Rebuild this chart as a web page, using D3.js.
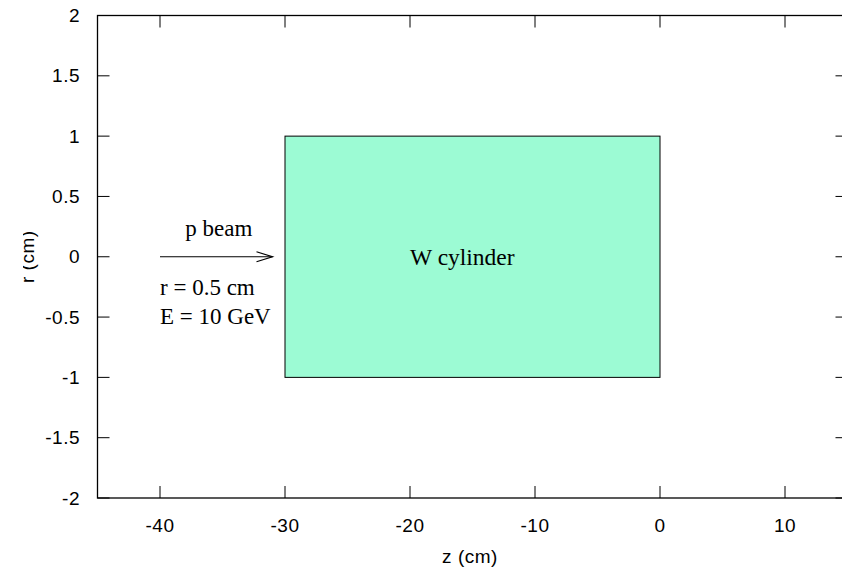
<!DOCTYPE html>
<html><head><meta charset="utf-8">
<script src="https://cdn.jsdelivr.net/npm/d3@7"></script>
<style>body{margin:0;background:#fff}svg{display:block}</style>
</head><body>
<script>
const xTicks = [-40, -30, -20, -10, 0, 10];
const yTicks = [-2, -1.5, -1, -0.5, 0, 0.5, 1, 1.5, 2];
const xDomain = [-45, 15];
const yDomain = [-2, 2];
const cylinder = {z0: -30, z1: 0, r0: -1, r1: 1, name: "W cylinder"};
const beamArrow = {zFrom: -40, zTo: -31, r: 0};
const beamLabels = [
  {text: "p beam", z: -35.3, r: 0.17, anchor: "middle"},
  {text: "r = 0.5 cm", z: -40, r: -0.32, anchor: "start"},
  {text: "E = 10 GeV", z: -40, r: -0.56, anchor: "start"}
];
const cylLabel = {z: -20, r: -0.07};

(function(){
const W = 842, H = 571;
const svg = d3.select("body").append("svg").attr("width", W).attr("height", H);
const x = d3.scaleLinear().domain(xDomain).range([97.5, 847.5]);
const y = d3.scaleLinear().domain(yDomain).range([498, 15.5]);

svg.append("rect")
  .attr("x", x(cylinder.z0)).attr("y", y(cylinder.r1))
  .attr("width", x(cylinder.z1) - x(cylinder.z0))
  .attr("height", y(cylinder.r0) - y(cylinder.r1))
  .attr("fill", "#9cfbd4").attr("stroke", "#000").attr("stroke-width", 1);

const pL = x(xDomain[0]), pR = x(xDomain[1]), pT = y(yDomain[1]), pB = y(yDomain[0]);
svg.append("rect").attr("x", pL).attr("y", pT).attr("width", pR-pL).attr("height", pB-pT)
  .attr("fill", "none").attr("stroke", "#000").attr("stroke-width", 1.3);

const fmt = v => String(v).replace("\u2212", "-");
const tl = 12;
const gx = svg.append("g");
xTicks.forEach(t => {
  gx.append("line").attr("x1", x(t)).attr("x2", x(t)).attr("y1", pB).attr("y2", pB - tl).attr("stroke", "#000");
  gx.append("line").attr("x1", x(t)).attr("x2", x(t)).attr("y1", pT).attr("y2", pT + tl).attr("stroke", "#000");
  gx.append("text").attr("x", x(t)).attr("y", 532).attr("text-anchor", "middle")
    .attr("font-family", "Liberation Sans, Arial, sans-serif").attr("font-size", 19).attr("letter-spacing", 0.5)
    .text(fmt(t));
});
const gy = svg.append("g");
yTicks.forEach(t => {
  gy.append("line").attr("x1", pL).attr("x2", pL + tl).attr("y1", y(t)).attr("y2", y(t)).attr("stroke", "#000");
  gy.append("line").attr("x1", pR).attr("x2", pR - tl).attr("y1", y(t)).attr("y2", y(t)).attr("stroke", "#000");
  gy.append("text").attr("x", 80).attr("y", y(t)).attr("dy", "0.35em").attr("text-anchor", "end")
    .attr("font-family", "Liberation Sans, Arial, sans-serif").attr("font-size", 19).attr("letter-spacing", 0.5)
    .text(fmt(t));
});

svg.append("text").attr("x", 470).attr("y", 563).attr("text-anchor", "middle")
  .attr("font-family", "Liberation Sans, Arial, sans-serif").attr("font-size", 19).attr("letter-spacing", 0.5)
  .text("z (cm)");
svg.append("clipPath").attr("id", "yl").append("rect").attr("x", 23).attr("y", 0).attr("width", 80).attr("height", H);
svg.append("g").attr("clip-path", "url(#yl)")
  .append("text").attr("transform", `translate(34,${y(0)}) rotate(-90)`).attr("text-anchor", "middle")
  .attr("font-family", "Liberation Sans, Arial, sans-serif").attr("font-size", 19).attr("letter-spacing", 0.5)
  .text("r (cm)");

const ax1 = x(beamArrow.zFrom), ax2 = x(beamArrow.zTo), ay = y(beamArrow.r);
svg.append("line").attr("x1", ax1).attr("x2", ax2).attr("y1", ay).attr("y2", ay).attr("stroke", "#000").attr("stroke-width", 1.2);
svg.append("path").attr("d", `M${ax2-16},${ay-5} L${ax2},${ay} L${ax2-16},${ay+5}`)
  .attr("fill", "none").attr("stroke", "#000").attr("stroke-width", 1.2);

beamLabels.forEach(l => {
  svg.append("text").attr("x", x(l.z)).attr("y", y(l.r)).attr("text-anchor", l.anchor)
    .attr("font-family", "Liberation Serif, Times New Roman, serif").attr("font-size", 23)
    .text(l.text);
});
svg.append("text").attr("x", x(cylLabel.z)).attr("y", y(cylLabel.r))
  .attr("font-family", "Liberation Serif, Times New Roman, serif").attr("font-size", 23.5)
  .text(cylinder.name);
})();
</script>
</body></html>
